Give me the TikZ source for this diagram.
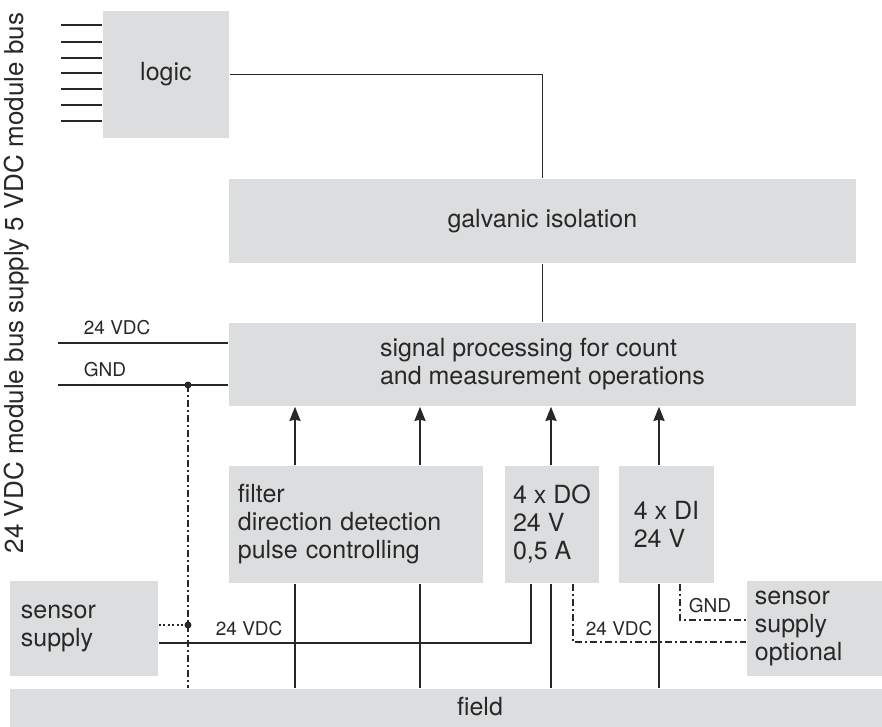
\documentclass[tikz,border=0pt]{standalone}
\usepackage{fontspec}
\setmainfont{TeX Gyre Heros}
\usepackage{tikz}
\usetikzlibrary{calc, positioning, arrows.meta}
\definecolor{boxgray}{RGB}{220,221,222}
\definecolor{ink}{RGB}{40,40,40}

\begin{document}
\begin{tikzpicture}[x=1pt, y=-1pt, >={Stealth[length=14pt, width=11pt, inset=1pt]},
    line width=1.8pt, draw=ink, text=ink,
    block/.style={fill=boxgray, inner sep=0pt, anchor=north west,
        font=\fontsize{25}{28}\selectfont},
    small/.style={font=\fontsize{19}{22}\selectfont, inner sep=0pt, anchor=base west},
    dashdot/.style={line width=1.2pt, dash pattern=on 7pt off 3pt on 2pt off 3pt},
    dotline/.style={line width=1.2pt, dash pattern=on 2pt off 2.5pt}]

    \useasboundingbox (0,0) rectangle (882,726);

    % blocks
    \node[block, minimum width=126pt, minimum height=127pt] (logic) at (102,10) {logic};
    \node[block, minimum width=627pt, minimum height=84pt] (galv) at (228,178) {galvanic isolation};
    \node[block, minimum width=627pt, minimum height=83pt, align=left] (sig) at (228,322)
        {signal processing for count\\and measurement operations};
    \node[block, minimum height=117pt, inner xsep=9pt, text width=236pt, align=left] (filter) at (228,465)
        {filter\\direction detection\\pulse controlling};
    \node[block, minimum width=94pt, minimum height=117pt, align=left] (do) at (504,465)
        {4 x DO\\24 V\\0,5 A};
    \node[block, minimum width=95pt, minimum height=117pt, align=left] (di) at (618,465)
        {4 x DI\\24 V};
    \node[block, minimum height=95pt, inner xsep=11pt, text width=126pt, align=left] (sens) at (9,580)
        {sensor\\supply};
    \node[block, minimum height=95pt, inner xsep=8pt, text width=120pt, align=left] (opt) at (746,580)
        {sensor\\supply\\optional};
    \node[block, minimum width=873pt, minimum height=38pt] (field) at (9,688) {};
    \node[font=\fontsize{25}{28}\selectfont, inner sep=0pt] (fieldlbl) at (480,707) {field};

    \node[rotate=90, anchor=base, inner sep=0pt, font=\fontsize{26}{30}\selectfont] (buslbl) at (23,283)
        {24 VDC module bus supply 5 VDC module bus};

    % module bus
    \foreach \yy in {25,42,58,73,89,105,121}
        \draw (61,\yy) -- (logic.west |- 0,\yy);

    \draw (logic.east) -| (galv.north);
    \draw (galv.south) -- (sig.north);

    % bus supply
    \coordinate (vin) at (58,343);
    \coordinate (gin) at (58,385);
    \coordinate (gdot) at (188,385);
    \draw (vin) -- (vin -| sig.west);
    \draw (gin) -- (gin -| sig.west);
    \node[small] (vinlbl) at (83,334) {24 VDC};
    \node[small] (ginlbl) at (83,376) {GND};
    \fill[ink] (gdot) circle (3.5pt);
    \draw[dashdot] (gdot) -- (gdot |- field.north);

    % signals
    \foreach \xx in {295,420} {
        \draw[->] (filter.north -| \xx,0) -- (sig.south -| \xx,0);
        \draw (filter.south -| \xx,0) -- (field.north -| \xx,0);
    }
    \draw[->] (do.north -| 551,0) -- (sig.south -| 551,0);
    \draw (do.south -| 551,0) -- (field.north -| 551,0);
    \draw[->] (di.north -| 659,0) -- (sig.south -| 659,0);
    \draw (di.south -| 659,0) -- (field.north -| 659,0);

    % sensor supply
    \coordinate (sdot) at (188,625);
    \draw (sens.east |- 0,643) -| (do.south -| 531,0);
    \draw[dotline] (sens.east |- sdot) -- (sdot);
    \fill[ink] (sdot) circle (3.5pt);
    \node[small] (slbl) at (215,635) {24 VDC};

    % optional sensor supply
    \draw[dashdot] (do.south -| 573,0) |- (opt.west |- 0,642);
    \draw[dashdot] (di.south -| 680,0) |- (opt.west |- 0,620);
    \node[small] (optlbl) at (585,635) {24 VDC};
    \node[small] (gndlbl) at (688,612) {GND};

\end{tikzpicture}
\end{document}
